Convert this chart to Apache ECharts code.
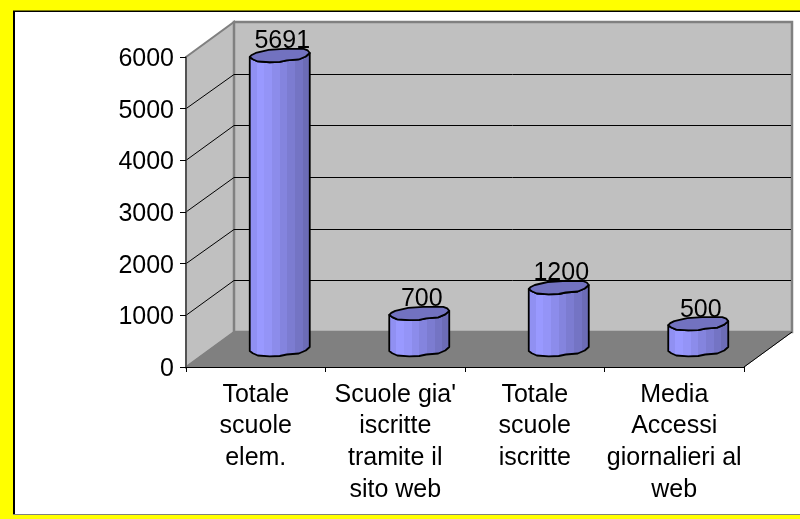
<!DOCTYPE html>
<html>
<head>
<meta charset="utf-8">
<style>
    html, body { margin: 0; padding: 0; background: #ffff00; }
    #chart { width: 800px; height: 519px; }
</style>
</head>
<body>
<div id="chart"></div>
<script src="https://cdn.jsdelivr.net/npm/echarts@6/dist/echarts.min.js"></script>
<script>
let categories = ['Totale\nscuole\nelem.', "Scuole gia'\niscritte\ntramite il\nsito web", 'Totale\nscuole\niscritte', 'Media\nAccessi\ngiornalieri al\nweb'];
let values = [5691, 700, 1200, 500];
let yTicks = [0, 1000, 2000, 3000, 4000, 5000, 6000];

// depth of the fake 3d box, in px
let depthX = 48;
let depthY = -35;
let wallColor = '#c0c0c0';
let edgeColor = '#808080';
let font = '"Liberation Sans", Arial, sans-serif';

// outline of the cylinder cap, offsets from its centre (not a true ellipse in the original)
let capFront = [[-30, 1.5], [-27, 3.8], [-22, 6], [-10, 6.8], [0, 6.5], [7, 5], [19, 4], [26, 1], [30, -2.5]];
let capBack = [[28, -5], [24, -6.5], [4, -6.5], [-11, -5.5], [-24, -2.5], [-28, -0.5]];

// banded shading like the old office charts
let bandColors = ['#9090f2', '#9999ff', '#9494f7', '#8c8ceb', '#8484de', '#7c7cd1', '#7474c4', '#6c6cb6'];
let bandStops = [];
bandColors.forEach((c, i) => {
    bandStops.push({ offset: i / bandColors.length, color: c });
    bandStops.push({ offset: (i + 1) / bandColors.length, color: c });
});
let shade = new echarts.graphic.LinearGradient(0, 0, 1, 0, bandStops);

function renderBox(params, api) {
    let box = params.coordSys;
    let left = box.x;
    let right = box.x + box.width;
    let y0 = api.coord([0, 0])[1];
    let yTop = api.coord([0, yTicks[yTicks.length - 1]])[1];
    let children = [
        { type: 'polygon', shape: { points: [[left, yTop], [left + depthX, yTop + depthY], [left + depthX, y0 + depthY], [left, y0]] }, style: { fill: wallColor, stroke: edgeColor, lineWidth: 2 } },
    ];
    let backWall = { type: 'polygon', shape: { points: [[left + depthX, yTop + depthY], [right + depthX, yTop + depthY], [right + depthX, y0 + depthY], [left + depthX, y0 + depthY]] }, style: { fill: wallColor, stroke: edgeColor, lineWidth: 2.5 } };
    children.push(backWall);
    yTicks.forEach((t) => {
        if (t === 0 || t === yTicks[yTicks.length - 1]) return;
        let y = api.coord([0, t])[1];
        let yBack = Math.round(y + depthY) + 0.5;
        children.push({ type: 'polyline', shape: { points: [[left, y], [left + depthX, yBack], [right + depthX - 1, yBack]] }, style: { fill: 'none', stroke: '#000', lineWidth: 1 } });
    });
    children.push({ type: 'polygon', shape: { points: [[left, y0], [right, y0], [right + depthX, y0 + depthY], [left + depthX, y0 + depthY]] }, style: { fill: edgeColor, stroke: edgeColor, lineWidth: 1 } });
    children.push({ type: 'line', shape: { x1: right, y1: y0, x2: right + depthX, y2: y0 + depthY }, style: { stroke: '#000', lineWidth: 1 } });
    return { type: 'group', children: children };
}

function renderCylinder(params, api) {
    let p = api.coord([api.value(0), api.value(1)]);
    let base = api.coord([api.value(0), 0]);
    let cx = p[0] + depthX / 2;
    let top = p[1] + depthY / 2;
    let bottom = base[1] + depthY / 2;
    let front = (y) => capFront.map((o) => [cx + o[0], y + o[1]]);
    let back = capBack.map((o) => [cx + o[0], top + o[1]]);
    let body = front(top).concat(front(bottom).reverse());
    return {
        type: 'group',
        children: [
            { type: 'polygon', shape: { points: body }, style: { fill: shade, stroke: '#000', lineWidth: 1.8, lineJoin: 'round' } },
            { type: 'polygon', shape: { points: front(top).concat(back) }, style: { fill: '#7272c0', stroke: '#000', lineWidth: 1.8, lineJoin: 'round' } },
            { type: 'text', style: { x: cx + 2.5, y: top - 14, text: String(api.value(1)), font: '25px ' + font, fill: '#000', align: 'center', verticalAlign: 'middle' } }
        ]
    };
}

let option = {
    backgroundColor: '#ffff00',
    animation: false,
    graphic: [
        { type: 'rect', z: -10, shape: { x: 13, y: 10, width: 787, height: 505 }, style: { fill: '#fff' } },
        { type: 'rect', z: -9, shape: { x: 13, y: 10, width: 787, height: 1 }, style: { fill: '#808000' } },
        { type: 'rect', z: -9, shape: { x: 13, y: 11, width: 787, height: 1 }, style: { fill: '#000' } },
        { type: 'rect', z: -9, shape: { x: 13, y: 11, width: 2, height: 504 }, style: { fill: '#000' } },
        { type: 'rect', z: -9, shape: { x: 13, y: 514, width: 787, height: 1 }, style: { fill: '#808080' } }
    ],
    grid: { left: 186, right: 56, top: 57, bottom: 152 },
    xAxis: {
        type: 'category',
        data: categories,
        z: 5,
        axisTick: { show: true, length: 5, alignWithLabel: false, lineStyle: { color: '#000' } },
        axisLine: { lineStyle: { color: '#000', width: 1 } },
        axisLabel: { interval: 0, color: '#000', fontFamily: font, fontSize: 25, lineHeight: 31.7, margin: 12 },
        splitLine: { show: false }
    },
    yAxis: {
        type: 'value',
        min: 0,
        max: 6000,
        interval: 1000,
        z: 5,
        axisTick: { show: true, length: 6, lineStyle: { color: '#000' } },
        axisLine: { show: true, lineStyle: { color: '#444', width: 1.5 } },
        axisLabel: {
            color: '#000',
            fontFamily: font,
            fontSize: 25,
            margin: 12,
            formatter: (v) => '{tick|' + v + '}',
            rich: { tick: { color: '#000', fontFamily: font, fontSize: 25, padding: [4, 0, 0, 0] } }
        },
        splitLine: { show: false }
    },
    series: [
        { type: 'custom', renderItem: renderBox, data: [[0, 0]], silent: true, z: 1, clip: false },
        { type: 'custom', renderItem: renderCylinder, data: values.map((v, i) => [i, v]), silent: true, z: 2, clip: false }
    ]
};

let chart = echarts.init(document.getElementById('chart'), null, { renderer: 'canvas' });
chart.setOption(option);
</script>
</body>
</html>
